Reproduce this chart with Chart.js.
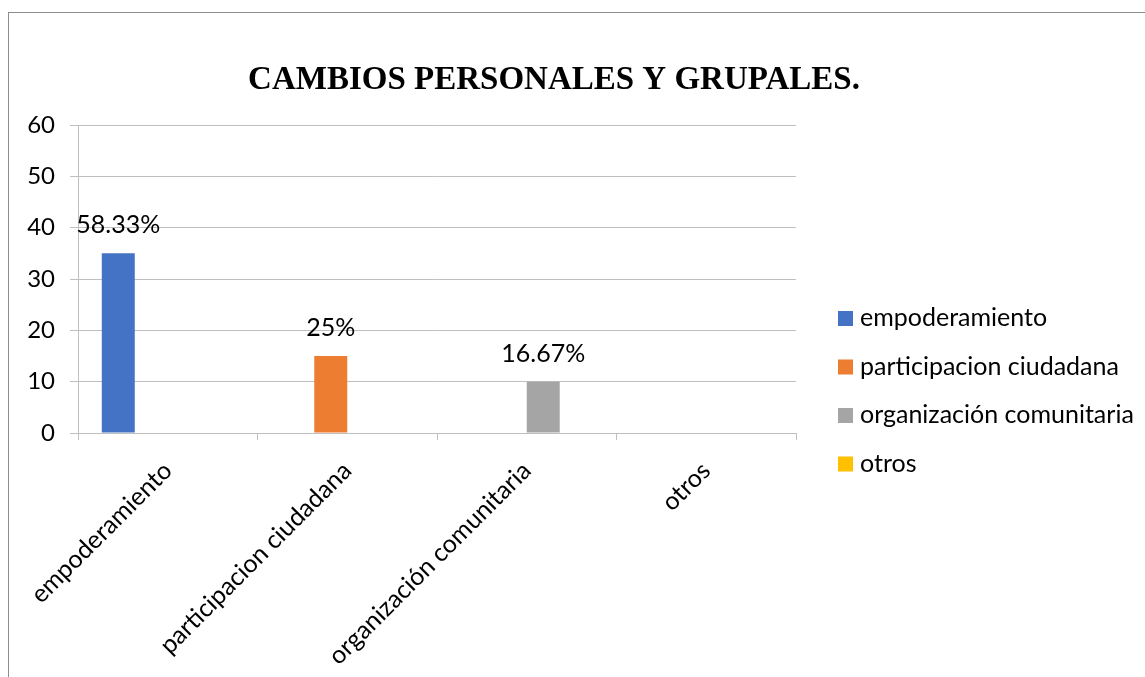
<!DOCTYPE html>
<html>
<head>
<meta charset="utf-8">
<script src="https://cdn.jsdelivr.net/npm/chart.js@4"></script>
<style>
  html, body { margin: 0; padding: 0; background: #fff; overflow: hidden; }
  #frame { position: absolute; left: 8px; top: 12px; width: 1200px; height: 700px;
           border-left: 1px solid #8c8c8c; border-top: 1px solid #8c8c8c; }
  #wrap { position: absolute; left: 9px; top: 13px; width: 1136px; height: 664px; }
</style>
</head>
<body>
<div id="frame"></div>
<div id="wrap"><canvas id="cambiosChart"></canvas></div>
<script>
// categorias y valores
const categorias = ['empoderamiento', 'participacion ciudadana', 'organización comunitaria', 'otros'];
const valores = [35, 15, 10, 0];
const porcentajes = ['58.33%', '25%', '16.67%', null];
const colores = ['#4472C4', '#ED7D31', '#A5A5A5', '#FFC000'];
const yTicks = [0, 10, 20, 30, 40, 50, 60];

const fuente = 'Lato';
const tam = 24;

// cada serie solo tiene valor en su propia categoria (como en Excel)
const datasets = categorias.map((cat, i) => ({
    label: cat,
    data: categorias.map((_, j) => (j === i ? valores[i] : null)),
    backgroundColor: colores[i],
    borderWidth: 0,
    barPercentage: 1,
    categoryPercentage: 0.735
}));

const etiquetas = {
    id: 'etiquetas',
    afterDatasetsDraw(chart) {
        const ctx = chart.ctx;
        ctx.save();
        ctx.font = (tam + 1) + 'px ' + fuente;
        ctx.fillStyle = '#000';
        ctx.textAlign = 'center';
        ctx.textBaseline = 'alphabetic';
        chart.data.datasets.forEach((ds, i) => {
            if (!porcentajes[i]) return;
            const bar = chart.getDatasetMeta(i).data[i];
            ctx.fillText(porcentajes[i], bar.x, bar.y - 20);
        });
        ctx.restore();
    }
};

const leyenda = {
    id: 'leyenda',
    afterDraw(chart) {
        const ctx = chart.ctx;
        ctx.save();
        ctx.font = (tam + 1) + 'px ' + fuente;
        ctx.textBaseline = 'middle';
        ctx.textAlign = 'left';
        chart.data.datasets.forEach((ds, i) => {
            const y = 305 + i * 48.5;
            ctx.fillStyle = ds.backgroundColor;
            ctx.fillRect(829, y - 7, 15, 15);
            ctx.fillStyle = '#000';
            ctx.fillText(ds.label, 851, y);
        });
        ctx.restore();
    }
};

new Chart(document.getElementById('cambiosChart'), {
    type: 'bar',
    data: { labels: categorias, datasets: datasets },
    plugins: [etiquetas, leyenda],
    options: {
        responsive: true,
        maintainAspectRatio: false,
        animation: false,
        layout: { padding: { left: 0, right: 46, top: 0, bottom: 0 } },
        plugins: {
            legend: { display: false },
            tooltip: { enabled: false },
            title: {
                display: true,
                text: 'CAMBIOS PERSONALES Y GRUPALES.',
                color: '#000',
                font: { family: 'Liberation Serif', size: 33, weight: 'bold' },
                padding: { top: 48, bottom: 24.4 }
            }
        },
        scales: {
            x: {
                grid: { display: true, drawOnChartArea: false, offset: true, tickLength: 7, color: '#bfbfbf' },
                border: { color: '#bfbfbf' },
                ticks: {
                    autoSkip: false, minRotation: 45, maxRotation: 45,
                    color: '#000', font: { family: fuente, size: tam + 1 }, padding: 16
                },
                afterFit(s) { s.height = 244; }
            },
            y: {
                min: 0, max: 60,
                afterBuildTicks(s) { s.ticks = yTicks.map(v => ({ value: v })); },
                grid: { color: '#bfbfbf', tickLength: 8 },
                border: { color: '#bfbfbf' },
                ticks: { color: '#000', font: { family: fuente, size: tam }, padding: 15 },
                afterFit(s) { s.width = 69; }
            },
            yR: {
                position: 'right',
                display: true,
                grid: { display: false },
                border: { display: false },
                ticks: { display: false },
                afterFit(s) { s.width = 303; }
            }
        }
    }
});
</script>
</body>
</html>
